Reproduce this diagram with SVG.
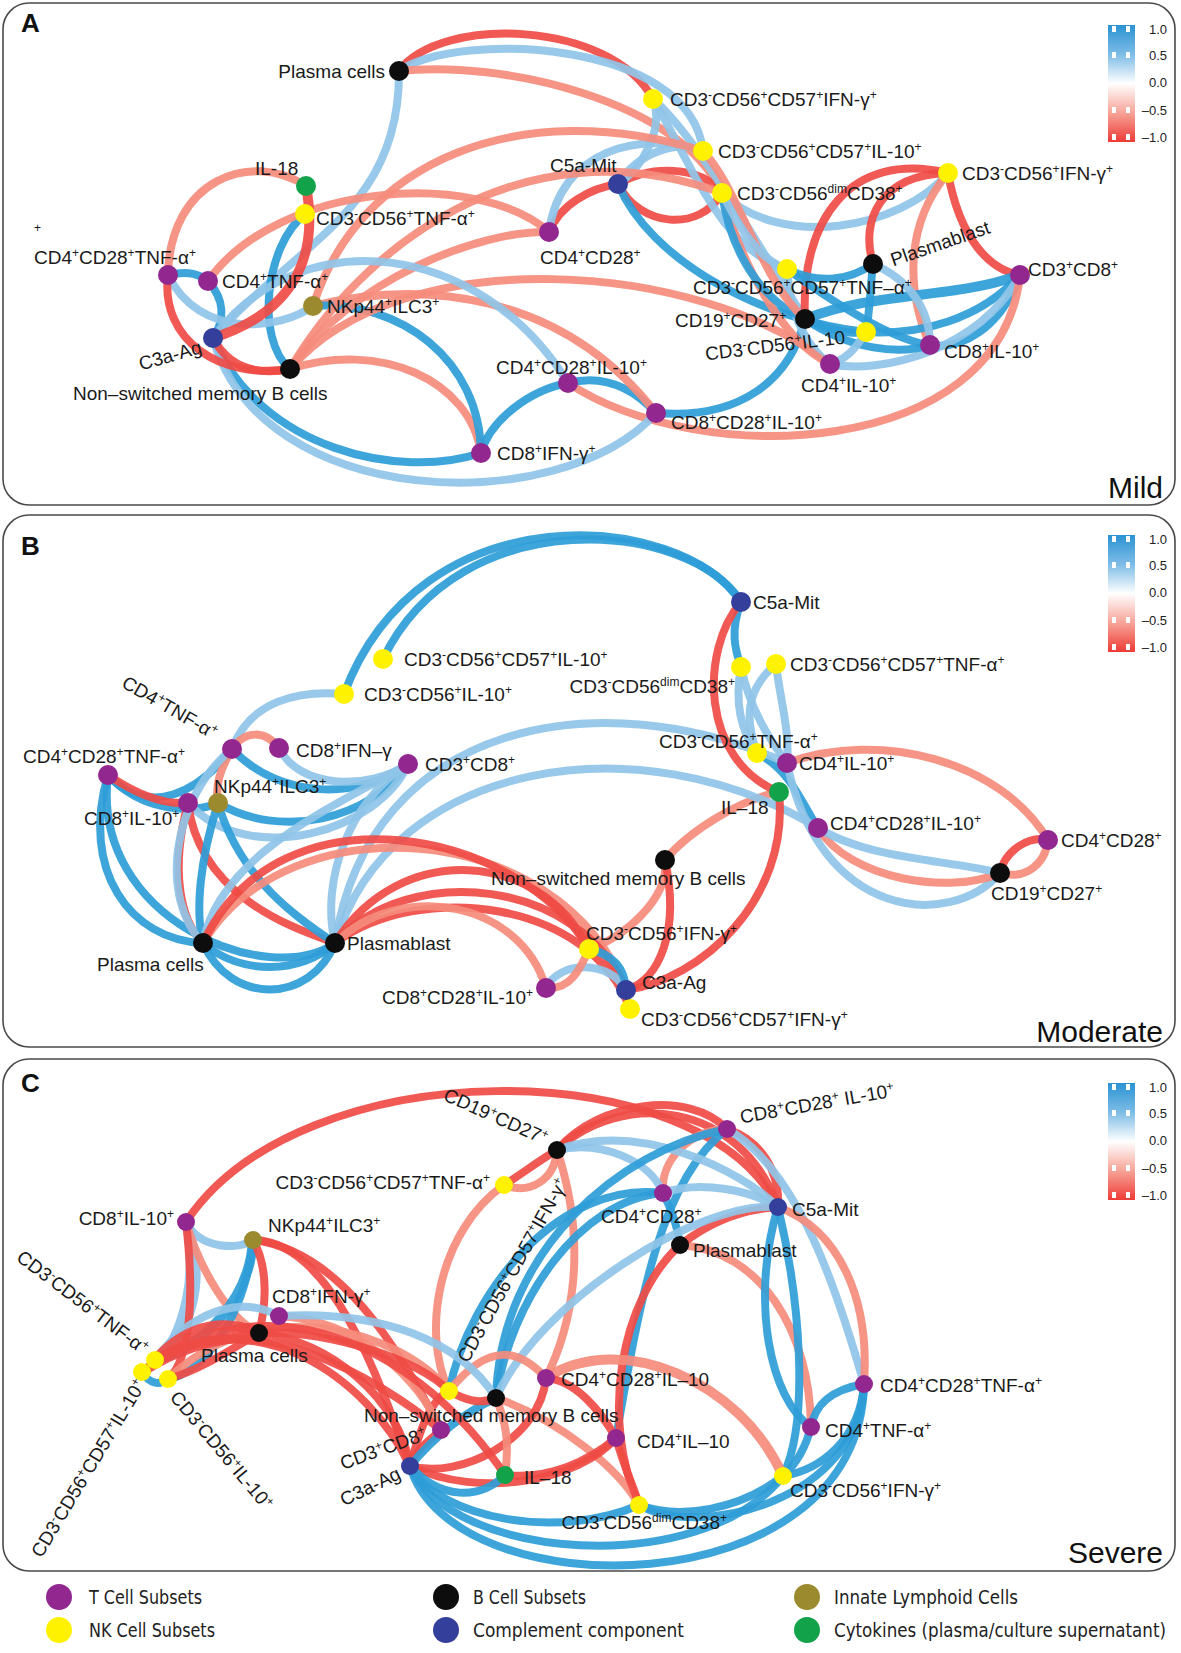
<svg xmlns="http://www.w3.org/2000/svg" xmlns:xlink="http://www.w3.org/1999/xlink" width="1181" height="1653" viewBox="0 0 1181 1653">
<style>
.e path{fill:none;stroke-width:8;stroke-linecap:round;stroke-opacity:0.92}
.r{stroke:#ef4b45}
.s{stroke:#f58b7c}
.b{stroke:#2e9dd8}
.l{stroke:#8fc4e8}
.w{stroke-width:10 !important}
.t{font-family:"Liberation Sans",Arial,sans-serif;font-size:19px;fill:#1a1a1a}
.u{font-size:12px;baseline-shift:super}
.np{fill:#92278f}.ny{fill:#fff200}.nk{fill:#0d0d0d}.nb{fill:#343f9b}.no{fill:#9b8a2e}.ng{fill:#12a24a}
.panel{fill:none;stroke:#4a4a4a;stroke-width:1.6}
.lt{font-family:"Liberation Sans",Arial,sans-serif;font-size:26px;font-weight:bold;fill:#111}
.sev{font-family:"Liberation Sans",Arial,sans-serif;font-size:30px;fill:#111;text-anchor:end}
.cb{font-family:"Liberation Sans",Arial,sans-serif;font-size:13px;fill:#222;text-anchor:end}
.lg{font-family:"DejaVu Sans Condensed","Liberation Sans",sans-serif;font-size:19px;fill:#222}
</style>
<defs>
<linearGradient id="cg" x1="0" y1="0" x2="0" y2="1">
<stop offset="0" stop-color="#2b93d3"/>
<stop offset="0.25" stop-color="#7dbce6"/>
<stop offset="0.5" stop-color="#ffffff"/>
<stop offset="0.75" stop-color="#f7a498"/>
<stop offset="1" stop-color="#ee3b36"/>
</linearGradient>
<g id="cbar">
<rect x="0" y="0" width="27" height="117" fill="url(#cg)"/>
<rect x="4" y="1" width="4" height="6" fill="#fff"/><rect x="18" y="1" width="4" height="6" fill="#fff"/>
<rect x="4" y="27" width="4" height="6" fill="#fff"/><rect x="18" y="27" width="4" height="6" fill="#fff"/>
<rect x="4" y="82" width="4" height="6" fill="#fff"/><rect x="18" y="82" width="4" height="6" fill="#fff"/>
<rect x="4" y="109" width="4" height="6" fill="#fff"/><rect x="18" y="109" width="4" height="6" fill="#fff"/>
</g>
</defs>
<rect width="1181" height="1653" fill="#fff"/>

<!-- panel frames -->
<rect class="panel" x="3" y="3" width="1172" height="502" rx="26"/>
<rect class="panel" x="3" y="515" width="1172" height="532" rx="26"/>
<rect class="panel" x="3" y="1059" width="1172" height="512" rx="26"/>
<text class="lt" x="21" y="32">A</text>
<text class="lt" x="21" y="555">B</text>
<text class="lt" x="21" y="1092">C</text>
<text class="sev" x="1163" y="498">Mild</text>
<text class="sev" x="1163" y="1042">Moderate</text>
<text class="sev" x="1163" y="1563">Severe</text>

<!-- colour bars -->
<g id="colorbar-A">
<use xlink:href="#cbar" x="1108" y="25"/>
<text class="cb" x="1167" y="34">1.0</text><text class="cb" x="1167" y="60">0.5</text><text class="cb" x="1167" y="87">0.0</text><text class="cb" x="1167" y="115">–0.5</text><text class="cb" x="1167" y="142">–1.0</text>
</g>
<g id="colorbar-B">
<use xlink:href="#cbar" x="1108" y="535"/>
<text class="cb" x="1167" y="544">1.0</text><text class="cb" x="1167" y="570">0.5</text><text class="cb" x="1167" y="597">0.0</text><text class="cb" x="1167" y="625">–0.5</text><text class="cb" x="1167" y="652">–1.0</text>
</g>
<g id="colorbar-C">
<use xlink:href="#cbar" x="1108" y="1083"/>
<text class="cb" x="1167" y="1092">1.0</text><text class="cb" x="1167" y="1118">0.5</text><text class="cb" x="1167" y="1145">0.0</text><text class="cb" x="1167" y="1173">–0.5</text><text class="cb" x="1167" y="1200">–1.0</text>
</g>

<!-- ===== PANEL A connectors ===== -->
<g id="edges-A" class="e">
<path class="r" d="M399,71 C440,15 610,20 653,99"/>
<path class="l" d="M399,71 C460,30 690,40 703,151"/>
<path class="s" d="M399,71 C500,60 680,100 722,193"/>
<path class="l" d="M399,71 C400,210 300,240 213,338"/>
<path class="s" d="M306,186 C250,150 170,180 168,275"/>
<path class="b" d="M305,214 C265,245 255,340 290,369"/>
<path class="s" d="M208,281 C280,180 480,170 549,232"/>
<path class="r" d="M549,232 C560,205 590,188 618,184"/>
<path class="l" d="M549,232 C560,150 640,130 703,151"/>
<path class="r" d="M618,184 C640,228 700,232 722,193"/>
<path class="r" d="M618,184 C650,165 700,165 722,193"/>
<path class="l" d="M618,184 C640,150 680,140 703,151"/>
<path class="l" d="M653,99 C665,130 640,170 618,184"/>
<path class="b" d="M618,184 C650,260 760,320 866,332"/>
<path class="l" d="M653,99 C700,140 760,250 805,319"/>
<path class="l" d="M653,99 C690,160 720,250 787,269"/>
<path class="l" d="M722,193 C780,250 900,230 948,173"/>
<path class="r" d="M948,173 C850,150 800,220 805,319"/>
<path class="r" d="M948,173 C880,175 860,220 873,264"/>
<path class="s" d="M948,173 C900,230 910,300 930,345"/>
<path class="r" d="M948,173 C960,240 990,270 1020,275"/>
<path class="b w" d="M1020,275 C950,300 880,290 805,319"/>
<path class="b" d="M1020,275 C980,320 920,335 866,332"/>
<path class="b" d="M1020,275 C1000,330 960,350 930,345"/>
<path class="l" d="M1020,275 C980,350 880,375 830,364"/>
<path class="s" d="M1020,275 C1000,460 700,470 568,383"/>
<path class="b" d="M656,413 C630,385 600,375 568,383"/>
<path class="b" d="M568,383 C530,390 490,420 481,453"/>
<path class="b" d="M656,413 C740,420 790,380 805,319"/>
<path class="s" d="M313,306 C420,280 560,290 656,413"/>
<path class="b" d="M213,338 C260,450 400,480 481,453"/>
<path class="l" d="M213,338 C260,510 560,520 656,413"/>
<path class="s" d="M290,369 C380,340 470,380 481,453"/>
<path class="b" d="M313,306 C400,300 480,360 481,453"/>
<path class="b" d="M208,281 C225,300 225,320 213,338"/>
<path class="b" d="M168,275 C190,270 200,275 208,281"/>
<path class="l" d="M168,275 C200,340 280,330 313,306"/>
<path class="r" d="M168,275 C160,340 220,380 290,369"/>
<path class="r" d="M213,338 C230,370 260,375 290,369"/>
<path class="s" d="M290,369 C350,280 480,230 549,232"/>
<path class="s" d="M290,369 C360,250 520,120 722,193"/>
<path class="s" d="M313,306 C360,160 520,95 703,151"/>
<path class="s" d="M290,369 C400,240 700,260 830,364"/>
<path class="l" d="M213,338 C300,220 480,240 568,383"/>
<path class="r w" d="M306,186 C318,250 300,310 213,338"/>
<path class="b" d="M787,269 C820,285 850,280 873,264"/>
<path class="l" d="M873,264 C910,280 930,310 930,345"/>
<path class="b" d="M873,264 C870,290 870,310 866,332"/>
<path class="b" d="M787,269 C830,300 890,340 930,345"/>
<path class="l" d="M787,269 C790,320 810,350 830,364"/>
<path class="b" d="M805,319 C830,330 850,335 866,332"/>
<path class="b" d="M805,319 C850,350 900,355 930,345"/>
<path class="l" d="M866,332 C855,350 845,360 830,364"/>
<path class="s" d="M722,193 C740,260 780,340 830,364"/>
<path class="b" d="M722,193 C730,250 760,300 805,319"/>
<path class="s" d="M703,151 C740,190 760,280 805,319"/>
<path class="l" d="M722,193 C740,230 760,260 787,269"/>
</g>

<!-- ===== PANEL A nodes ===== -->
<g id="A-plasma-cells"><circle class="nk" cx="399" cy="71" r="10"/><text class="t" x="385" y="78" text-anchor="end">Plasma cells</text></g>
<g id="A-cd57-ifng"><circle class="ny" cx="653" cy="99" r="10"/><text class="t" x="670" y="106">CD3<tspan class="u">-</tspan>CD56<tspan class="u">+</tspan>CD57<tspan class="u">+</tspan>IFN-γ<tspan class="u">+</tspan></text></g>
<g id="A-cd57-il10"><circle class="ny" cx="703" cy="151" r="10"/><text class="t" x="718" y="158">CD3<tspan class="u">-</tspan>CD56<tspan class="u">+</tspan>CD57<tspan class="u">+</tspan>IL-10<tspan class="u">+</tspan></text></g>
<g id="A-c5a-mit"><circle class="nb" cx="618" cy="184" r="10"/><text class="t" x="550" y="172">C5a-Mit</text></g>
<g id="A-cd56dim-cd38"><circle class="ny" cx="722" cy="193" r="10"/><text class="t" x="737" y="200">CD3<tspan class="u">-</tspan>CD56<tspan class="u">dim</tspan>CD38<tspan class="u">+</tspan></text></g>
<g id="A-cd56-ifng"><circle class="ny" cx="948" cy="173" r="10"/><text class="t" x="962" y="180">CD3<tspan class="u">-</tspan>CD56<tspan class="u">+</tspan>IFN-γ<tspan class="u">+</tspan></text></g>
<g id="A-il18"><circle class="ng" cx="306" cy="186" r="10"/><text class="t" x="255" y="175">IL-18</text></g>
<g id="A-cd56-tnfa"><circle class="ny" cx="305" cy="214" r="10"/><text class="t" x="316" y="225">CD3<tspan class="u">-</tspan>CD56<tspan class="u">+</tspan>TNF-α<tspan class="u">+</tspan></text></g>
<g id="A-cd4-cd28"><circle class="np" cx="549" cy="232" r="10"/><text class="t" x="540" y="264">CD4<tspan class="u">+</tspan>CD28<tspan class="u">+</tspan></text></g>
<g id="A-cd4-cd28-tnfa"><circle class="np" cx="168" cy="275" r="10"/><text class="t" x="34" y="264">CD4<tspan class="u">+</tspan>CD28<tspan class="u">+</tspan>TNF-α<tspan class="u">+</tspan></text><text class="t" x="34" y="232" style="font-size:12px">+</text></g>
<g id="A-cd4-tnfa"><circle class="np" cx="208" cy="281" r="10"/><text class="t" x="222" y="288">CD4<tspan class="u">+</tspan>TNF-α<tspan class="u">+</tspan></text></g>
<g id="A-nkp44"><circle class="no" cx="313" cy="306" r="10"/><text class="t" x="327" y="313">NKp44<tspan class="u">+</tspan>ILC3<tspan class="u">+</tspan></text></g>
<g id="A-c3a-ag"><circle class="nb" cx="213" cy="338" r="10"/><text class="t" transform="translate(170,355) rotate(-16)" x="0" y="7" text-anchor="middle">C3a-Ag</text></g>
<g id="A-nonswitched-b"><circle class="nk" cx="290" cy="369" r="10"/><text class="t" x="73" y="400">Non–switched memory B cells</text></g>
<g id="A-cd4-cd28-il10"><circle class="np" cx="568" cy="383" r="10"/><text class="t" x="496" y="374">CD4<tspan class="u">+</tspan>CD28<tspan class="u">+</tspan>IL-10<tspan class="u">+</tspan></text></g>
<g id="A-cd8-ifng"><circle class="np" cx="481" cy="453" r="10"/><text class="t" x="497" y="460">CD8<tspan class="u">+</tspan>IFN-γ<tspan class="u">+</tspan></text></g>
<g id="A-cd8-cd28-il10"><circle class="np" cx="656" cy="413" r="10"/><text class="t" x="671" y="429">CD8<tspan class="u">+</tspan>CD28<tspan class="u">+</tspan>IL-10<tspan class="u">+</tspan></text></g>
<g id="A-cd57-tnfa"><circle class="ny" cx="787" cy="269" r="10"/><text class="t" x="693" y="294">CD3<tspan class="u">-</tspan>CD56<tspan class="u">+</tspan>CD57<tspan class="u">+</tspan>TNF–α<tspan class="u">+</tspan></text></g>
<g id="A-plasmablast"><circle class="nk" cx="873" cy="264" r="10"/><text class="t" transform="translate(940,243) rotate(-19)" x="0" y="7" text-anchor="middle">Plasmablast</text></g>
<g id="A-cd3-cd8"><circle class="np" cx="1020" cy="275" r="10"/><text class="t" x="1028" y="276">CD3<tspan class="u">+</tspan>CD8<tspan class="u">+</tspan></text></g>
<g id="A-cd19-cd27"><circle class="nk" cx="805" cy="319" r="10"/><text class="t" x="675" y="327">CD19<tspan class="u">+</tspan>CD27<tspan class="u">+</tspan></text></g>
<g id="A-cd56-il10"><circle class="ny" cx="866" cy="332" r="10"/><text class="t" transform="translate(775,345) rotate(-7)" x="0" y="7" text-anchor="middle">CD3<tspan class="u">-</tspan>CD56<tspan class="u">+</tspan>IL-10</text></g>
<g id="A-cd8-il10"><circle class="np" cx="930" cy="345" r="10"/><text class="t" x="944" y="358">CD8<tspan class="u">+</tspan>IL-10<tspan class="u">+</tspan></text></g>
<g id="A-cd4-il10"><circle class="np" cx="830" cy="364" r="10"/><text class="t" x="801" y="392">CD4<tspan class="u">+</tspan>IL-10<tspan class="u">+</tspan></text></g>

<!-- ===== PANEL B connectors ===== -->
<g id="edges-B" class="e">
<path class="b" d="M741,602 C680,510 420,490 344,694"/>
<path class="b" d="M741,602 C690,520 460,500 383,659"/>
<path class="l" d="M232,749 C250,700 300,690 344,694"/>
<path class="b" d="M741,602 C730,630 735,650 741,667"/>
<path class="l" d="M741,667 C735,700 740,730 757,753"/>
<path class="l" d="M741,667 C750,710 770,740 787,763"/>
<path class="l" d="M776,664 C745,690 745,720 757,753"/>
<path class="l" d="M776,664 C780,700 790,730 787,763"/>
<path class="b" d="M757,753 C790,770 800,800 818,828"/>
<path class="s" d="M787,763 C880,730 1000,760 1048,840"/>
<path class="s" d="M779,792 C740,800 690,830 665,860"/>
<path class="s" d="M665,860 C670,900 620,940 589,949"/>
<path class="r" d="M665,860 C680,930 660,980 626,990"/>
<path class="l" d="M787,763 C820,920 950,930 1000,873"/>
<path class="s" d="M818,828 C850,880 950,895 1000,873"/>
<path class="l" d="M818,828 C870,860 950,860 1000,873"/>
<path class="r" d="M1048,840 C1030,835 1005,850 1000,873"/>
<path class="s" d="M1048,840 C1045,865 1025,880 1000,873"/>
<path class="l" d="M335,943 C370,720 600,680 787,763"/>
<path class="l" d="M335,943 C390,760 640,720 818,828"/>
<path class="r" d="M741,602 C700,650 700,760 779,792"/>
<path class="r" d="M779,792 C790,900 700,980 626,990"/>
<path class="b" d="M108,775 C150,820 200,790 232,749"/>
<path class="b" d="M108,775 C140,810 190,815 218,803"/>
<path class="r" d="M108,775 C130,790 160,805 188,803"/>
<path class="b" d="M108,775 C80,870 130,940 203,943"/>
<path class="b" d="M108,775 C90,920 270,990 335,943"/>
<path class="s" d="M232,749 C245,730 265,730 279,748"/>
<path class="s" d="M232,749 C220,770 215,785 218,803"/>
<path class="b" d="M232,749 C280,800 360,800 408,764"/>
<path class="l" d="M279,748 C300,790 370,790 408,764"/>
<path class="b" d="M218,803 C280,840 370,820 408,764"/>
<path class="l" d="M188,803 C250,870 380,830 408,764"/>
<path class="r" d="M188,803 C170,870 180,920 203,943"/>
<path class="r" d="M188,803 C200,900 300,930 335,943"/>
<path class="b" d="M218,803 C200,860 195,910 203,943"/>
<path class="b" d="M218,803 C240,880 300,920 335,943"/>
<path class="l" d="M232,749 C170,800 160,900 203,943"/>
<path class="l" d="M408,764 C350,800 320,880 335,943"/>
<path class="l" d="M203,943 C220,850 350,800 408,764"/>
<path class="b" d="M203,943 C230,1005 310,1005 335,943"/>
<path class="b" d="M203,943 C240,975 300,975 335,943"/>
<path class="s" d="M203,943 C290,800 560,820 626,990"/>
<path class="r" d="M203,943 C280,780 520,830 589,949"/>
<path class="r" d="M335,943 C400,840 540,850 589,949"/>
<path class="r" d="M335,943 C410,860 580,880 626,990"/>
<path class="r" d="M335,943 C420,880 590,900 630,1009"/>
<path class="s" d="M335,943 C400,880 520,900 546,988"/>
<path class="l" d="M546,988 C560,960 610,960 626,990"/>
<path class="s" d="M546,988 C570,990 580,970 589,949"/>
<path class="b" d="M589,949 C615,955 625,970 626,990"/>
</g>

<!-- ===== PANEL B nodes ===== -->
<g id="B-c5a-mit"><circle class="nb" cx="741" cy="602" r="10"/><text class="t" x="753" y="609">C5a-Mit</text></g>
<g id="B-cd57-il10"><circle class="ny" cx="383" cy="659" r="10"/><text class="t" x="404" y="666">CD3<tspan class="u">-</tspan>CD56<tspan class="u">+</tspan>CD57<tspan class="u">+</tspan>IL-10<tspan class="u">+</tspan></text></g>
<g id="B-cd56-il10"><circle class="ny" cx="344" cy="694" r="10"/><text class="t" x="364" y="701">CD3<tspan class="u">-</tspan>CD56<tspan class="u">+</tspan>IL-10<tspan class="u">+</tspan></text></g>
<g id="B-cd56dim-cd38"><circle class="ny" cx="741" cy="667" r="10"/><text class="t" x="735" y="693" text-anchor="end">CD3<tspan class="u">-</tspan>CD56<tspan class="u">dim</tspan>CD38<tspan class="u">+</tspan></text></g>
<g id="B-cd57-tnfa"><circle class="ny" cx="776" cy="664" r="10"/><text class="t" x="790" y="671">CD3<tspan class="u">-</tspan>CD56<tspan class="u">+</tspan>CD57<tspan class="u">+</tspan>TNF-α<tspan class="u">+</tspan></text></g>
<g id="B-cd4-tnfa"><circle class="np" cx="232" cy="749" r="10"/><text class="t" transform="translate(170,707) rotate(30)" x="0" y="7" text-anchor="middle">CD4<tspan class="u">+</tspan>TNF-α<tspan class="u">+</tspan></text></g>
<g id="B-cd8-ifng"><circle class="np" cx="279" cy="748" r="10"/><text class="t" x="296" y="757">CD8<tspan class="u">+</tspan>IFN–γ</text></g>
<g id="B-cd3-cd8"><circle class="np" cx="408" cy="764" r="10"/><text class="t" x="425" y="771">CD3<tspan class="u">+</tspan>CD8<tspan class="u">+</tspan></text></g>
<g id="B-cd4-cd28-tnfa"><circle class="np" cx="108" cy="775" r="10"/><text class="t" x="23" y="763">CD4<tspan class="u">+</tspan>CD28<tspan class="u">+</tspan>TNF-α<tspan class="u">+</tspan></text></g>
<g id="B-cd8-il10"><circle class="np" cx="188" cy="803" r="10"/><text class="t" x="84" y="825">CD8<tspan class="u">+</tspan>IL-10<tspan class="u">+</tspan></text></g>
<g id="B-nkp44"><circle class="no" cx="218" cy="803" r="10"/><text class="t" x="214" y="793">NKp44<tspan class="u">+</tspan>ILC3<tspan class="u">+</tspan></text></g>
<g id="B-plasma-cells"><circle class="nk" cx="203" cy="943" r="10"/><text class="t" x="97" y="971">Plasma cells</text></g>
<g id="B-plasmablast"><circle class="nk" cx="335" cy="943" r="10"/><text class="t" x="347" y="950">Plasmablast</text></g>
<g id="B-cd8-cd28-il10"><circle class="np" cx="546" cy="988" r="10"/><text class="t" x="533" y="1004" text-anchor="end">CD8<tspan class="u">+</tspan>CD28<tspan class="u">+</tspan>IL-10<tspan class="u">+</tspan></text></g>
<g id="B-cd56-ifng"><circle class="ny" cx="589" cy="949" r="10"/><text class="t" x="586" y="940">CD3<tspan class="u">-</tspan>CD56<tspan class="u">+</tspan>IFN-γ<tspan class="u">+</tspan></text></g>
<g id="B-cd57-ifng"><circle class="ny" cx="630" cy="1009" r="10"/><text class="t" x="641" y="1026">CD3<tspan class="u">-</tspan>CD56<tspan class="u">+</tspan>CD57<tspan class="u">+</tspan>IFN-γ<tspan class="u">+</tspan></text></g>
<g id="B-c3a-ag"><circle class="nb" cx="626" cy="990" r="10"/><text class="t" x="642" y="989">C3a-Ag</text></g>
<g id="B-nonswitched-b"><circle class="nk" cx="665" cy="860" r="10"/><text class="t" x="491" y="885">Non–switched memory B cells</text></g>
<g id="B-il18"><circle class="ng" cx="779" cy="792" r="10"/><text class="t" x="721" y="814">IL–18</text></g>
<g id="B-cd56-tnfa"><circle class="ny" cx="757" cy="753" r="10"/><text class="t" x="659" y="748">CD3<tspan class="u">-</tspan>CD56<tspan class="u">+</tspan>TNF-α<tspan class="u">+</tspan></text></g>
<g id="B-cd4-il10"><circle class="np" cx="787" cy="763" r="10"/><text class="t" x="799" y="770">CD4<tspan class="u">+</tspan>IL-10<tspan class="u">+</tspan></text></g>
<g id="B-cd4-cd28-il10"><circle class="np" cx="818" cy="828" r="10"/><text class="t" x="830" y="830">CD4<tspan class="u">+</tspan>CD28<tspan class="u">+</tspan>IL-10<tspan class="u">+</tspan></text></g>
<g id="B-cd4-cd28"><circle class="np" cx="1048" cy="840" r="10"/><text class="t" x="1061" y="847">CD4<tspan class="u">+</tspan>CD28<tspan class="u">+</tspan></text></g>
<g id="B-cd19-cd27"><circle class="nk" cx="1000" cy="873" r="10"/><text class="t" x="991" y="900">CD19<tspan class="u">+</tspan>CD27<tspan class="u">+</tspan></text></g>

<!-- ===== PANEL C connectors ===== -->
<g id="edges-C" class="e">
<path class="r" d="M186,1222 C300,1050 700,1050 778,1207"/>
<path class="r" d="M557,1150 C620,1090 740,1100 778,1207"/>
<path class="r" d="M557,1150 C600,1100 690,1090 727,1129"/>
<path class="r" d="M727,1129 C760,1140 780,1170 778,1207"/>
<path class="s" d="M727,1129 C690,1130 660,1160 663,1193"/>
<path class="b" d="M727,1129 C660,1180 640,1300 616,1438"/>
<path class="l" d="M557,1150 C600,1140 650,1160 663,1193"/>
<path class="l" d="M557,1150 C640,1120 740,1170 778,1207"/>
<path class="s" d="M557,1150 C555,1180 530,1195 504,1185"/>
<path class="s" d="M504,1185 C440,1230 420,1330 449,1391"/>
<path class="s" d="M557,1150 C590,1250 570,1330 546,1378"/>
<path class="l" d="M663,1193 C700,1180 750,1190 778,1207"/>
<path class="b" d="M663,1193 C672,1210 678,1230 680,1245"/>
<path class="b" d="M663,1193 C560,1180 470,1290 449,1391"/>
<path class="b" d="M663,1193 C580,1200 510,1300 496,1398"/>
<path class="l" d="M727,1129 C800,1170 840,1300 864,1384"/>
<path class="s" d="M680,1245 C760,1250 810,1330 811,1427"/>
<path class="s" d="M778,1207 C840,1230 870,1300 864,1384"/>
<path class="b" d="M778,1207 C750,1300 770,1400 811,1427"/>
<path class="b" d="M778,1207 C800,1300 810,1420 783,1476"/>
<path class="r" d="M778,1207 C730,1210 700,1230 680,1245"/>
<path class="r" d="M557,1150 C540,1160 520,1175 504,1185"/>
<path class="r" d="M680,1245 C620,1300 600,1420 639,1505"/>
<path class="b" d="M864,1384 C860,1440 820,1470 783,1476"/>
<path class="b" d="M864,1384 C830,1390 815,1405 811,1427"/>
<path class="b" d="M864,1384 C860,1500 700,1540 639,1505"/>
<path class="b" d="M864,1384 C860,1610 450,1610 410,1466"/>
<path class="b" d="M811,1427 C805,1450 795,1465 783,1476"/>
<path class="b" d="M783,1476 C740,1510 680,1520 639,1505"/>
<path class="b" d="M783,1476 C700,1580 450,1560 410,1466"/>
<path class="b" d="M639,1505 C560,1540 440,1520 410,1466"/>
<path class="s w" d="M546,1378 C620,1330 740,1380 783,1476"/>
<path class="s" d="M496,1398 C560,1420 620,1470 639,1505"/>
<path class="r" d="M546,1378 C575,1380 600,1410 616,1438"/>
<path class="r" d="M616,1438 C625,1470 635,1490 639,1505"/>
<path class="r" d="M410,1466 C460,1480 540,1440 546,1378"/>
<path class="r" d="M410,1466 C480,1500 580,1480 616,1438"/>
<path class="b" d="M410,1466 C440,1500 480,1500 505,1475"/>
<path class="r" d="M410,1466 C415,1450 430,1440 441,1430"/>
<path class="r" d="M410,1466 C420,1430 430,1400 449,1391"/>
<path class="b" d="M410,1466 C440,1430 470,1410 496,1398"/>
<path class="s" d="M505,1475 C510,1440 505,1420 496,1398"/>
<path class="r" d="M505,1475 C550,1480 590,1460 616,1438"/>
<path class="b" d="M496,1398 C500,1250 620,1150 727,1129"/>
<path class="l" d="M496,1398 C540,1300 700,1200 778,1207"/>
<path class="r" d="M449,1391 C465,1400 480,1405 496,1398"/>
<path class="s" d="M449,1391 C490,1340 520,1350 546,1378"/>
<path class="l" d="M186,1222 C200,1250 240,1250 253,1240"/>
<path class="l" d="M186,1222 C210,1280 190,1340 155,1360"/>
<path class="l" d="M186,1222 C200,1300 170,1360 142,1372"/>
<path class="s" d="M186,1222 C200,1270 230,1320 259,1333"/>
<path class="r" d="M186,1222 C195,1300 190,1360 168,1379"/>
<path class="b w" d="M253,1240 C250,1300 200,1350 155,1360"/>
<path class="b" d="M253,1240 C245,1320 200,1375 168,1379"/>
<path class="r" d="M253,1240 C340,1250 400,1350 441,1430"/>
<path class="r" d="M253,1240 C270,1270 265,1310 259,1333"/>
<path class="r" d="M253,1240 C330,1240 380,1380 410,1466"/>
<path class="l" d="M155,1360 C200,1300 250,1300 279,1316"/>
<path class="s" d="M279,1316 C360,1320 420,1380 441,1430"/>
<path class="l" d="M279,1316 C380,1310 460,1340 496,1398"/>
<path class="s" d="M168,1379 C260,1290 400,1330 449,1391"/>
<path class="r" d="M155,1360 C250,1300 380,1380 441,1430"/>
<path class="r" d="M142,1372 C250,1290 370,1380 410,1466"/>
<path class="r" d="M155,1360 C280,1280 420,1350 505,1475"/>
<path class="r" d="M259,1333 C330,1330 420,1360 449,1391"/>
<path class="r" d="M259,1333 C330,1340 400,1400 410,1466"/>
<path class="r w" d="M155,1360 C190,1320 230,1320 259,1333"/>
<path class="r w" d="M142,1372 C190,1340 230,1340 259,1333"/>
<path class="r" d="M168,1379 C200,1370 230,1350 259,1333"/>
<path class="b" d="M142,1372 C150,1385 160,1385 168,1379"/>
</g>

<!-- ===== PANEL C nodes ===== -->
<g id="C-cd19-cd27"><circle class="nk" cx="557" cy="1150" r="9"/><text class="t" transform="translate(496,1116) rotate(24)" x="0" y="7" text-anchor="middle">CD19<tspan class="u">+</tspan>CD27<tspan class="u">+</tspan></text></g>
<g id="C-cd57-tnfa"><circle class="ny" cx="504" cy="1185" r="9"/><text class="t" x="490" y="1189" text-anchor="end">CD3<tspan class="u">-</tspan>CD56<tspan class="u">+</tspan>CD57<tspan class="u">+</tspan>TNF-α<tspan class="u">+</tspan></text></g>
<g id="C-cd8-il10"><circle class="np" cx="186" cy="1222" r="9"/><text class="t" x="174" y="1225" text-anchor="end">CD8<tspan class="u">+</tspan>IL-10<tspan class="u">+</tspan></text></g>
<g id="C-nkp44"><circle class="no" cx="253" cy="1240" r="9"/><text class="t" x="268" y="1232">NKp44<tspan class="u">+</tspan>ILC3<tspan class="u">+</tspan></text></g>
<g id="C-cd8-cd28-il10"><circle class="np" cx="727" cy="1129" r="9"/><text class="t" transform="translate(817,1103) rotate(-10)" x="0" y="7" text-anchor="middle">CD8<tspan class="u">+</tspan>CD28<tspan class="u">+</tspan> IL-10<tspan class="u">+</tspan></text></g>
<g id="C-cd4-cd28"><circle class="np" cx="663" cy="1193" r="9"/><text class="t" x="601" y="1223">CD4<tspan class="u">+</tspan>CD28<tspan class="u">+</tspan></text></g>
<g id="C-c5a-mit"><circle class="nb" cx="778" cy="1207" r="9"/><text class="t" x="792" y="1216">C5a-Mit</text></g>
<g id="C-plasmablast"><circle class="nk" cx="680" cy="1245" r="9"/><text class="t" x="693" y="1257">Plasmablast</text></g>
<g id="C-cd8-ifng"><circle class="np" cx="279" cy="1316" r="9"/><text class="t" x="272" y="1303">CD8<tspan class="u">+</tspan>IFN-γ<tspan class="u">+</tspan></text></g>
<g id="C-plasma-cells"><circle class="nk" cx="259" cy="1333" r="9"/><text class="t" x="201" y="1362">Plasma cells</text></g>
<g id="C-cd56-tnfa"><circle class="ny" cx="155" cy="1360" r="9"/><text class="t" transform="translate(83,1302) rotate(37)" x="0" y="7" text-anchor="middle">CD3<tspan class="u">-</tspan>CD56<tspan class="u">+</tspan>TNF-α<tspan class="u">+</tspan></text></g>
<g id="C-cd57-il10"><circle class="ny" cx="142" cy="1372" r="9"/><text class="t" transform="translate(88,1468) rotate(-59)" x="0" y="7" text-anchor="middle">CD3<tspan class="u">-</tspan>CD56<tspan class="u">+</tspan>CD57<tspan class="u">+</tspan>IL-10<tspan class="u">+</tspan></text></g>
<g id="C-cd56-il10"><circle class="ny" cx="168" cy="1379" r="9"/><text class="t" transform="translate(222,1450) rotate(50)" x="0" y="7" text-anchor="middle">CD3<tspan class="u">-</tspan>CD56<tspan class="u">+</tspan>IL-10<tspan class="u">+</tspan></text></g>
<g id="C-cd57-ifng"><circle class="ny" cx="449" cy="1391" r="9"/><text class="t" transform="translate(512,1270) rotate(-61)" x="0" y="7" text-anchor="middle">CD3<tspan class="u">-</tspan>CD56<tspan class="u">+</tspan>CD57<tspan class="u">+</tspan>IFN-γ<tspan class="u">+</tspan></text></g>
<g id="C-nonswitched-b"><circle class="nk" cx="496" cy="1398" r="9"/><text class="t" x="364" y="1422">Non–switched memory B cells</text></g>
<g id="C-cd4-cd28-il10"><circle class="np" cx="546" cy="1378" r="9"/><text class="t" x="561" y="1386">CD4<tspan class="u">+</tspan>CD28<tspan class="u">+</tspan>IL–10</text></g>
<g id="C-cd3-cd8"><circle class="np" cx="441" cy="1430" r="9"/><text class="t" transform="translate(383,1448) rotate(-20)" x="0" y="7" text-anchor="middle">CD3<tspan class="u">+</tspan>CD8<tspan class="u">+</tspan></text></g>
<g id="C-c3a-ag"><circle class="nb" cx="410" cy="1466" r="9"/><text class="t" transform="translate(370,1486) rotate(-26)" x="0" y="7" text-anchor="middle">C3a-Ag</text></g>
<g id="C-il18"><circle class="ng" cx="505" cy="1475" r="9"/><text class="t" x="524" y="1484">IL–18</text></g>
<g id="C-cd4-il10"><circle class="np" cx="616" cy="1438" r="9"/><text class="t" x="637" y="1448">CD4<tspan class="u">+</tspan>IL–10</text></g>
<g id="C-cd4-cd28-tnfa"><circle class="np" cx="864" cy="1384" r="9"/><text class="t" x="880" y="1392">CD4<tspan class="u">+</tspan>CD28<tspan class="u">+</tspan>TNF-α<tspan class="u">+</tspan></text></g>
<g id="C-cd4-tnfa"><circle class="np" cx="811" cy="1427" r="9"/><text class="t" x="825" y="1437">CD4<tspan class="u">+</tspan>TNF-α<tspan class="u">+</tspan></text></g>
<g id="C-cd56-ifng"><circle class="ny" cx="783" cy="1476" r="9"/><text class="t" x="790" y="1497">CD3<tspan class="u">-</tspan>CD56<tspan class="u">+</tspan>IFN-γ<tspan class="u">+</tspan></text></g>
<g id="C-cd56dim-cd38"><circle class="ny" cx="639" cy="1505" r="9"/><text class="t" x="727" y="1529" text-anchor="end">CD3<tspan class="u">-</tspan>CD56<tspan class="u">dim</tspan>CD38<tspan class="u">+</tspan></text></g>

<!-- ===== Legend ===== -->
<g id="legend">
<circle class="np" cx="59" cy="1597" r="13"/><text class="lg" x="89" y="1604" textLength="113" lengthAdjust="spacingAndGlyphs">T Cell Subsets</text>
<circle class="ny" cx="59" cy="1630" r="13"/><text class="lg" x="89" y="1637" textLength="126" lengthAdjust="spacingAndGlyphs">NK Cell Subsets</text>
<circle class="nk" cx="446" cy="1597" r="13"/><text class="lg" x="473" y="1604" textLength="113" lengthAdjust="spacingAndGlyphs">B Cell Subsets</text>
<circle class="nb" cx="446" cy="1630" r="13"/><text class="lg" x="473" y="1637" textLength="211" lengthAdjust="spacingAndGlyphs">Complement component</text>
<circle class="no" cx="807" cy="1597" r="13"/><text class="lg" x="834" y="1604" textLength="184" lengthAdjust="spacingAndGlyphs">Innate Lymphoid Cells</text>
<circle class="ng" cx="807" cy="1630" r="13"/><text class="lg" x="834" y="1637" textLength="332" lengthAdjust="spacingAndGlyphs">Cytokines (plasma/culture supernatant)</text>
</g>
</svg>
